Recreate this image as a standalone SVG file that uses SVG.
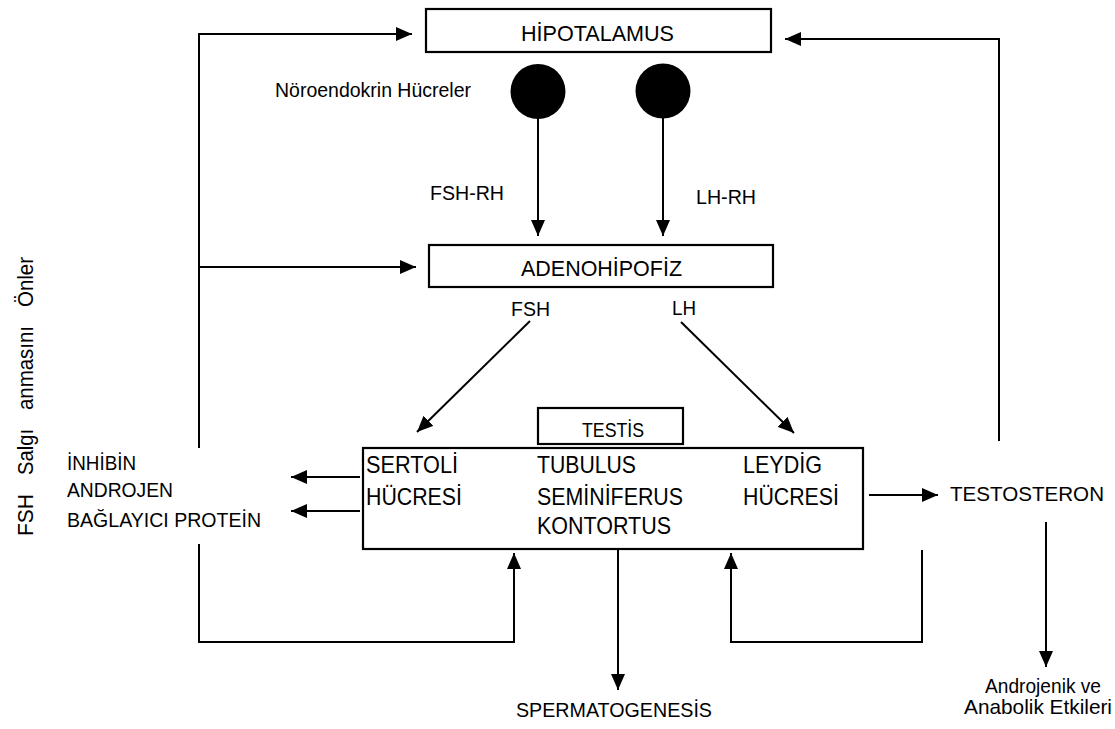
<svg xmlns="http://www.w3.org/2000/svg" width="1115" height="729" viewBox="0 0 1115 729">
<style>
.t{font-family:"Liberation Sans",Arial,sans-serif;fill:#000}
.s{font-size:21px}
.b{font-size:22px}
.c{font-size:24px}
.r{font-size:22px}
.box{fill:#fff;stroke:#000;stroke-width:2.2}
.ln{fill:none;stroke:#000;stroke-width:2}
.ar{marker-end:url(#ah)}
</style>
<defs>
<marker id="ah" markerUnits="userSpaceOnUse" markerWidth="16" markerHeight="14" refX="16" refY="7" orient="auto" viewBox="0 0 16 14">
<path d="M0,0 L16,7 L0,14 z" fill="#000"/>
</marker>
</defs>
<rect width="1115" height="729" fill="#fff"/>

<g id="connectors">
<polyline class="ln ar" points="199,448 199,34 412,34"/>
<line class="ln ar" x1="199" y1="267" x2="416" y2="267"/>
<polyline class="ln ar" points="999,441 999,39 785,39"/>
<line class="ln ar" x1="538" y1="118" x2="538" y2="236"/>
<line class="ln ar" x1="663" y1="118" x2="663" y2="236"/>
<line class="ln ar" x1="530" y1="321" x2="417" y2="432"/>
<line class="ln ar" x1="681" y1="322" x2="794" y2="433"/>
<line class="ln ar" x1="360" y1="477" x2="291" y2="477"/>
<line class="ln ar" x1="360" y1="511" x2="291" y2="511"/>
<line class="ln ar" x1="869" y1="495" x2="938" y2="495"/>
<polyline class="ln ar" points="199,544 199,642 514,642 514,553"/>
<polyline class="ln ar" points="922,550 922,642 731,642 731,553"/>
<line class="ln ar" x1="618" y1="549" x2="618" y2="690"/>
<line class="ln ar" x1="1046" y1="522" x2="1046" y2="667"/>
</g>

<g id="hipotalamus">
<rect class="box" x="426" y="9" width="345" height="43"/>
<text class="t b" x="521" y="41" textLength="153" lengthAdjust="spacingAndGlyphs">HİPOTALAMUS</text>
</g>

<g id="noroendokrin">
<circle cx="538" cy="91.5" r="27.5" fill="#000"/>
<circle cx="663" cy="91" r="27.5" fill="#000"/>
<text class="t s" x="275" y="97" textLength="196" lengthAdjust="spacingAndGlyphs">Nöroendokrin Hücreler</text>
</g>

<g id="labels-rh">
<text class="t s" x="430" y="200" textLength="74" lengthAdjust="spacingAndGlyphs">FSH-RH</text>
<text class="t s" x="696" y="204" textLength="60" lengthAdjust="spacingAndGlyphs">LH-RH</text>
</g>

<g id="adenohipofiz">
<rect class="box" x="429" y="245" width="344" height="42"/>
<text class="t b" x="521" y="276" textLength="161" lengthAdjust="spacingAndGlyphs">ADENOHİPOFİZ</text>
<text class="t s" x="511" y="316" textLength="39" lengthAdjust="spacingAndGlyphs">FSH</text>
<text class="t s" x="672" y="315" textLength="24" lengthAdjust="spacingAndGlyphs">LH</text>
</g>

<g id="testis-label">
<rect class="box" x="538" y="408" width="145" height="36"/>
<text class="t s" x="582" y="437" textLength="62" lengthAdjust="spacingAndGlyphs">TESTİS</text>
</g>

<g id="testis">
<rect class="box" x="363" y="448" width="500" height="101"/>
<text class="t c" x="366" y="473" textLength="92" lengthAdjust="spacingAndGlyphs">SERTOLİ</text>
<text class="t c" x="366" y="505" textLength="96" lengthAdjust="spacingAndGlyphs">HÜCRESİ</text>
<text class="t c" x="537" y="473" textLength="99" lengthAdjust="spacingAndGlyphs">TUBULUS</text>
<text class="t c" x="537" y="505" textLength="146" lengthAdjust="spacingAndGlyphs">SEMİNİFERUS</text>
<text class="t c" x="537" y="534" textLength="134" lengthAdjust="spacingAndGlyphs">KONTORTUS</text>
<text class="t c" x="743" y="473" textLength="79" lengthAdjust="spacingAndGlyphs">LEYDİG</text>
<text class="t c" x="743" y="505" textLength="96" lengthAdjust="spacingAndGlyphs">HÜCRESİ</text>
</g>

<g id="sertoli-products">
<text class="t s" x="67" y="470" textLength="69" lengthAdjust="spacingAndGlyphs">İNHİBİN</text>
<text class="t s" x="67" y="497" textLength="106" lengthAdjust="spacingAndGlyphs">ANDROJEN</text>
<text class="t s" x="67" y="527" textLength="194" lengthAdjust="spacingAndGlyphs">BAĞLAYICI PROTEİN</text>
</g>

<g id="fsh-note">
<g transform="translate(33,0) rotate(-90)">
<text class="t r" x="-536" y="0" textLength="42" lengthAdjust="spacingAndGlyphs">FSH</text>
<text class="t r" x="-475" y="0" textLength="46" lengthAdjust="spacingAndGlyphs">Salgı</text>
<text class="t r" x="-410" y="0" textLength="84" lengthAdjust="spacingAndGlyphs">anmasını</text>
<text class="t r" x="-307" y="0" textLength="50" lengthAdjust="spacingAndGlyphs">Önler</text>
</g>
</g>

<g id="testosteron">
<text class="t s" x="950" y="501" textLength="154" lengthAdjust="spacingAndGlyphs">TESTOSTERON</text>
</g>

<g id="etkiler">
<text class="t s" x="985" y="693" textLength="116" lengthAdjust="spacingAndGlyphs">Androjenik ve</text>
<text class="t s" x="964" y="714" textLength="148" lengthAdjust="spacingAndGlyphs">Anabolik Etkileri</text>
</g>

<g id="spermatogenesis">
<text class="t s" x="516" y="717" textLength="196" lengthAdjust="spacingAndGlyphs">SPERMATOGENESİS</text>
</g>
</svg>
